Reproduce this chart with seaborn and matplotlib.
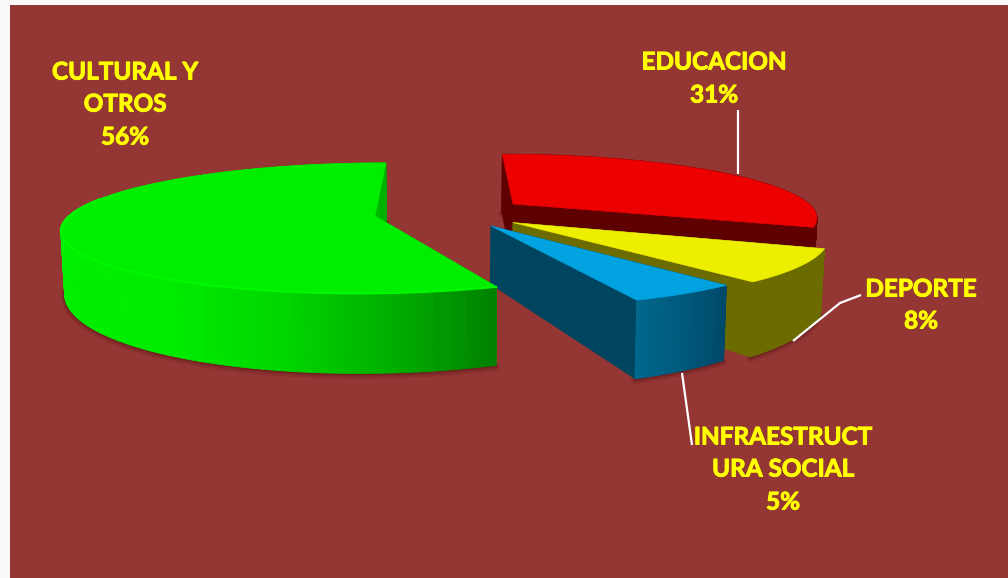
import numpy as np
import matplotlib
matplotlib.use("Agg")
import matplotlib.pyplot as plt
import matplotlib.patheffects as pe
from matplotlib.collections import PolyCollection
import seaborn as sns

# ---- data ----
categories = ["EDUCACION", "DEPORTE", "INFRAESTRUCTURA SOCIAL", "CULTURAL Y OTROS"]
values = [31, 8, 5, 56]
label_lines = [["EDUCACION"], ["DEPORTE"], ["INFRAESTRUCT", "URA SOCIAL"], ["CULTURAL Y", "OTROS"]]

# ---- style / layout (pixel space of the picture) ----
BG = "#943634"
TEXT = "#FFFF00"
FONT = "Lato"
VANISH_X, PERSP = 445.0, 0.186
centers = [(513, 204), (513, 222.6), (491, 226), (375, 216)]
radii_x = [296, 307, 306, 306]
radii_y = [59, 66, 66, 63]
tops = ["#EC0000", "#EEEE00", "#00A3E0", "#00EE00"]
start_faces = ["#5C0000", "#6B6B00", "#004560", "#00C000"]
end_faces = ["#5F0000", "#6B6B00", "#004560", "#008000"]
# wall shading from the left end of each wall to its right end
wall_stops = [["#600000", "#600000"],
              ["#6B6B00", "#6B6B00"],
              ["#00688C", "#005A7C", "#00486A"],
              ["#00F000", "#00EC00", "#00D800", "#00B000", "#008000"]]
label_pos = [(714, [62, 95]), (921, [289, 321]), (783, [437, 469, 502]), (125, [72, 104, 137])]
leaders = [[(738, 110), (738, 174)],
           [(861, 295), (840, 303), (793, 341)],
           [(682, 373), (692, 445)]]

sns.set_theme(style="white")
plt.rcParams["font.family"] = [FONT, "DejaVu Sans"]

W, H = 1008, 578
fig = plt.figure(figsize=(W / 100, H / 100), dpi=100, facecolor="#FAFAFA")
left, top = 9.5, 5
ax = fig.add_axes([left / W, 0, 1 - left / W, 1 - top / H], facecolor=BG)
ax.set_xlim(left, W)
ax.set_ylim(H, top)
ax.set_xticks([])
ax.set_yticks([])
sns.despine(ax=ax, left=True, bottom=True)


def project(center, rx, ry, theta):
    """Rim point of a perspective disc; theta runs clockwise from the back."""
    u, v = np.sin(theta), -np.cos(theta)
    w = 1 - PERSP * v
    return VANISH_X + (center[0] - VANISH_X + rx * u) / w, center[1] + ry * v / w, v


def drop(x, y, v):
    """Lower edge of the wall below a top-surface point."""
    return VANISH_X + (x - VANISH_X) * 0.99, y + 58 + 22 * np.maximum(v, 0)


edges = np.concatenate([[0], np.cumsum(values)]) / np.sum(values) * 2 * np.pi

for i in [3, 0, 1, 2]:
    c, rx, ry = centers[i], radii_x[i], radii_y[i]
    th = np.linspace(edges[i], edges[i + 1], 160)
    x, y, v = project(c, rx, ry, th)
    bx, by = drop(x, y, v)
    ax0, ay0 = c
    abx, aby = drop(ax0, ay0, 0.0)

    # soft shadow below the outer wall
    for grow, a in [(5, 0.10), (3, 0.14), (1.5, 0.18)]:
        ax.plot(bx, by + grow * 0.4, color="#300000", lw=grow, alpha=a, solid_capstyle="round", zorder=i * 5 + 1)

    # radial faces
    ax.fill([x[0], ax0, abx, bx[0]], [y[0], ay0, aby, by[0]], color=start_faces[i], lw=0.5, zorder=i * 5 + 2)
    ax.fill([x[-1], ax0, abx, bx[-1]], [y[-1], ay0, aby, by[-1]], color=end_faces[i], lw=0.5, zorder=i * 5 + 2)

    # outer wall, shaded by horizontal position
    quads = [[(x[k], y[k]), (x[k + 1], y[k + 1]), (bx[k + 1], by[k + 1]), (bx[k], by[k])] for k in range(len(x) - 1)]
    ramp = sns.blend_palette(wall_stops[i], n_colors=256)
    mids = (x[:-1] + x[1:]) / 2
    idx = ((mids - x.min()) / (x.max() - x.min()) * 255).astype(int)
    shades = [ramp[j] for j in idx]
    ax.add_collection(PolyCollection(quads, facecolors=shades, edgecolors=shades, linewidths=0.6, zorder=i * 5 + 3))

    # top surface
    ax.fill(np.r_[ax0, x], np.r_[ay0, y], color=tops[i], lw=0.4, zorder=i * 5 + 4)

    # rim highlight on the big slice
    if i == 3:
        front = v > -0.3
        ax.plot(x[front], y[front], color="#00FA00", lw=1.4, zorder=i * 5 + 4)

for pts in leaders:
    xs, ys = zip(*pts)
    ax.plot(xs, ys, color="white", lw=1.6, solid_capstyle="butt", zorder=40)

for i, (lines, (cx, ys)) in enumerate(zip(label_lines, label_pos)):
    for text, ypos in zip(lines + [f"{values[i]}%"], ys):
        ax.text(cx, ypos, text, color=TEXT, fontsize=17.5, fontweight="bold", ha="center", va="center", zorder=50,
                path_effects=[pe.withStroke(linewidth=0.7, foreground=TEXT)])

fig.savefig("out.png", dpi=100, facecolor=fig.get_facecolor())
